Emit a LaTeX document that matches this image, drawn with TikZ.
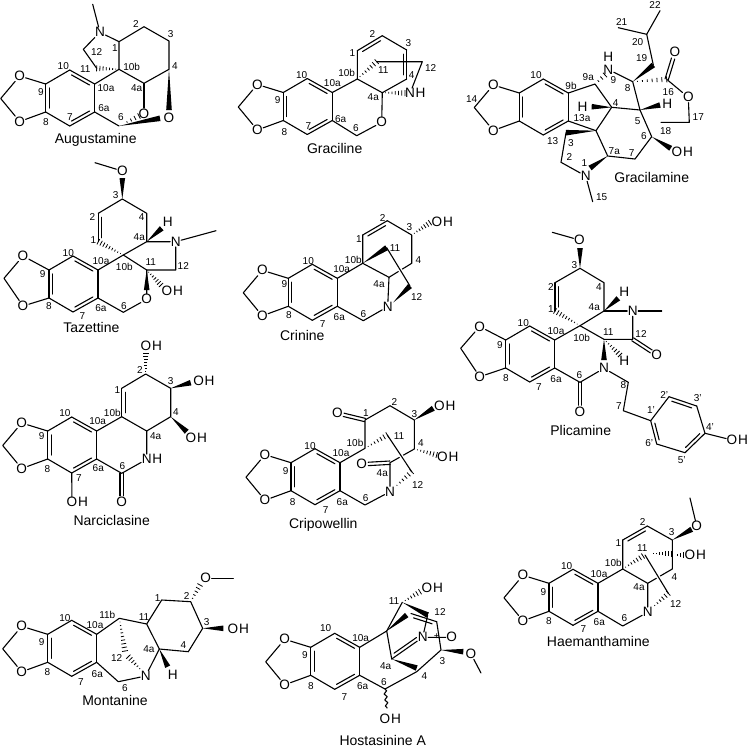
\documentclass[tikz,border=0pt]{standalone}
\usepackage{fontspec}
\setmainfont{Liberation Sans}
\usetikzlibrary{calc}
\usetikzlibrary{decorations.pathmorphing}

\tikzset{
  bond/.style={black, line width=1.1pt, line join=round, line cap=round},
  halo/.style={white, line width=4pt},
  atom/.style={inner sep=0.4pt, font=\fontsize{13.6}{13.6}\selectfont},
  num/.style={inner sep=0pt, font=\fontsize{10}{10}\selectfont},
  molname/.style={inner sep=0pt, font=\fontsize{14}{14}\selectfont}
}

\newcommand{\carbons}[2]{\foreach \n/\x/\y in {#2} \coordinate (#1\n) at (\x,\y);}
\newcommand{\nums}[2]{\foreach \lab/\x/\y in {#2} \node[num] (#1-\lab) at (\x,\y) {\lab};}
\newcommand{\bondwedge}[2]{\fill[black] (#1) -- ($(#2)!2.8pt!90:(#1)$) -- ($(#2)!2.8pt!-90:(#1)$) -- cycle;}
\newcommand{\bondhash}[3][7]{\foreach \i in {1,...,#1} {
    \pgfmathsetmacro{\fr}{\i/#1}
    \coordinate (h) at ($(#2)!\fr!(#3)$);
    \draw[black, line width=0.8pt] ($(h)!3pt*\fr!90:(#2)$) -- ($(h)!3pt*\fr!-90:(#2)$);
  }}
\newcommand{\bonddouble}[2]{
  \coordinate (h1) at ($(#1)!.14!(#2)$);
  \coordinate (h2) at ($(#1)!.86!(#2)$);
  \draw[bond] (#1) -- (#2);
  \draw[bond] ($(h1)!3.4pt!90:(#2)$) -- ($(h2)!3.4pt!-90:(#1)$);}
\newcommand{\bondtwin}[2]{
  \coordinate (h1) at ($(#2)!6.5pt!(#1)$);
  \draw[bond] ($(#1)!1.7pt!90:(#2)$) -- ($(h1)!1.7pt!-90:(#1)$);
  \draw[bond] ($(#1)!1.7pt!-90:(#2)$) -- ($(h1)!1.7pt!90:(#1)$);}
\newcommand{\bondover}[2]{
  \draw[halo] ($(#1)!.15!(#2)$) -- ($(#1)!.85!(#2)$);
  \draw[bond] (#1) -- (#2);}
\newcommand{\hydroxyl}[3]{
  \node[atom] (#1) at (#2,#3) {O};
  \node[atom, anchor=west, inner sep=0pt] (#1H) at (#1.east) {H};}
% the ring with the dioxole, from C9
\newcommand{\benzo}[6]{
  \begin{scope}[shift={(#2,#3)}]
    \carbons{#1}{9/0/0, 10/24/-14, 10a/49/0, 6a/49/28, 7/24/42, 8/0/28, CH/-45/#6}
    \node[atom] (#1O1) at (-26,#4) {O};
    \node[atom] (#1O2) at (-26,#5) {O};
  \end{scope}
  \bonddouble{#19}{#18}
  \bonddouble{#110a}{#110}
  \bonddouble{#17}{#16a}
  \draw[bond] (#19) -- (#110);
  \draw[bond] (#110a) -- (#16a);
  \draw[bond] (#17) -- (#18);
  \draw[bond] (#19) -- (#1O1) -- (#1CH) -- (#1O2) -- (#18);}

\begin{document}
\begin{tikzpicture}[x=1pt,y=-1pt]
  \useasboundingbox (0,0) rectangle (747,748);

  % Augustamine
  \benzo{au}{45.7}{84}{-8}{37.5}{14.5}
  \carbons{au}{1/119/41.7, 2/144/26.7, 3/169/41, 4/169/69.3, 4a/144/83.3, 10b/119/69.3, 12/83.3/49.3, 11/96.7/68.3, 6/119/126, me/92.7/4.3, w1/169/110, w2/160/118.3, w3/123/124, w4/139/116}
  \node[atom] (auN) at (100,32.3) {N};
  \node[atom] (auOa) at (144,113.5) {O};
  \node[atom] (auOb) at (169,118) {O};
  \draw[bond] (aume) -- (auN) -- (au1) -- (au2) -- (au3) -- (au4) -- (au4a) -- (au10b) -- (au1);
  \draw[bond] (au10b) -- (au10a);
  \draw[bond] (au6a) -- (au6);
  \draw[bond] (au4a) -- (auOa);
  \draw[bond] (auN) -- (au12) -- (au11);
  \bondhash{au10b}{au11}
  \bondwedge{au4}{auw1}
  \bondwedge{au6}{auw2}
  \bondhash[4]{auw3}{auw4}
  \nums{au}{1/115/48, 2/136/24, 3/170.7/34, 4/175/65.7, 4a/136.7/88.3, 10b/131.7/66.7, 12/96.7/51.7, 11/85.3/69, 10/63.3/66, 10a/106/88.3, 9/41/91.7, 8/46/121.7, 7/70/117.3, 6a/104/108.3, 6/121/117.3}
  \node[molname] (auname) at (95.7,140) {Augustamine};

  % Graciline
  \benzo{gr}{283.3}{92.5}{-8}{37.5}{14.5}
  \carbons{gr}{10b/357.3/79, 1/357.3/50.7, 2/382.3/35.7, 3/406.7/50, 4/406.7/79, 4a/382.3/92.7, 6/356.7/135.7, 11/376.7/61.7, 12/422.3/61.7, w1/405/93}
  \node[atom] (grO) at (381.7,122.3) {O};
  \node[atom] (grN) at (410,93.3) {N};
  \node[atom, anchor=west, inner sep=0pt] (grH) at (grN.east) {H};
  \draw[bond] (gr10a) -- (gr10b) -- (gr1);
  \bonddouble{gr2}{gr1}
  \draw[bond] (gr2) -- (gr3);
  \bonddouble{gr4}{gr3}
  \draw[bond] (gr4) -- (gr4a) -- (gr10b);
  \draw[bond] (gr4a) -- (grO) -- (gr6) -- (gr6a);
  \draw[bond] (gr11) -- (gr12) -- (grN);
  \bondhash{gr10b}{gr11}
  \bondhash{gr4a}{grw1}
  \nums{gr}{1/352.3/52.7, 2/372.3/34, 3/408.3/43.3, 4/411.7/75, 4a/373.3/97.3, 10b/346.7/73.3, 10a/332.3/83.3, 11/383.3/70, 12/430.7/67.7, 10/301.7/75, 9/277.7/100, 8/284.3/131.7, 7/308.3/126, 6a/340.7/119.3, 6/356/128.3}
  \node[molname] (grname) at (334.7,148.3) {Graciline};

  % Gracilamine
  \benzo{gl}{519.3}{93}{-8}{37.5}{14.5}
  \carbons{gl}{9a/595/84, 4/611.7/107.3, 8/632.7/81.7, 5/640/110, 6/651.7/136.7, 7/635/159, 7a/607.7/156, b/596/130.7, 2/561/162.3, 3/566/132.7, me/592.7/201.7, 19/653.3/65, 20/646.7/34.3, 21/618.3/27.7, 22/660/10.7, 16/666.7/79.3, 17/689.3/122.3, 18/661/122.3, w1/591.7/106.7, w2/660/105, w3/670.7/148.3, w4/590/168, w5/605/75}
  \node[atom] (glN) at (608.3,69.5) {N};
  \node[atom] (glNH) at (608.3,56.5) {H};
  \node[atom] (glH1) at (582.5,106.5) {H};
  \node[atom] (glH2) at (667.3,104.3) {H};
  \node[atom] (glNm) at (585.7,176) {N};
  \node[atom] (glOa) at (675,52.3) {O};
  \node[atom] (glOb) at (688.3,97.3) {O};
  \hydroxyl{glOH}{677}{151.7}
  \draw[bond] (gl10a) -- (gl9a) -- (gl4) -- (gl5) -- (gl8) -- (glN);
  \draw[bond] (gl4) -- (glb) -- (gl6a);
  \draw[bond] (glb) -- (gl7a) -- (gl7) -- (gl6) -- (gl5);
  \draw[bond] (gl3) -- (gl2) -- (glNm) -- (glme);
  \draw[bond] (gl19) -- (gl20) -- (gl21);
  \draw[bond] (gl20) -- (gl22);
  \draw[bond] (gl16) -- (glOb) -- (gl17) -- (gl18);
  \bondtwin{gl16}{glOa}
  \bondwedge{glb}{gl3}
  \bondwedge{gl7a}{glw4}
  \bondwedge{gl4}{glw1}
  \bondwedge{gl5}{glw2}
  \bondwedge{gl6}{glw3}
  \bondwedge{gl8}{gl19}
  \bondhash{gl8}{gl16}
  \bondhash[3]{gl9a}{glw5}
  \nums{gl}{22/655/5, 21/621.7/21.7, 20/637.7/41.7, 19/641.7/58.3, 16/668.3/91.7, 17/698.3/117.3, 18/665.7/131, 14/471.7/99.3, 10/536/75, 9b/571/86, 9a/588.3/76.7, 9/613.3/80, 8/627.7/87.7, 4/615.7/102.7, 5/637.7/121, 6/644/135.7, 13a/582/118, 13/552.7/140.7, 3/571/142.7, 2/569.3/157.3, 1/584.3/163.3, 7a/614.3/150.7, 7/631.7/152.7, 15/601.7/196.7}
  \node[molname] (glname) at (651.7,177.7) {Gracilamine};

  % Tazettine
  \benzo{ta}{49}{270}{-14}{36}{8.3}
  \carbons{ta}{3/122.3/199, 2/98.3/213.3, 1/98.3/241.7, 10b/123.3/255, 4a/146.7/241.7, 4/146.7/213.3, 6/123.3/312.3, 11/146.7/270, 12/175.7/270, me/216/230.7, m2/95/162.7, w1/122.3/178, w2/161.7/228.3, w3/146.7/290, w4/161/285}
  \node[atom] (taOm) at (122.3,171) {O};
  \node[atom] (taO) at (146.7,299.3) {O};
  \node[atom] (taN) at (175.7,241.7) {N};
  \node[atom] (taH) at (167.7,222.3) {H};
  \hydroxyl{taOH}{167}{290.7}
  \draw[bond] (tam2) -- (taOm);
  \bonddouble{ta2}{ta1}
  \draw[bond] (ta2) -- (ta3) -- (ta4) -- (ta4a) -- (ta10b) -- (ta10a);
  \draw[bond] (ta10b) -- (ta11) -- (ta12) -- (taN) -- (ta4a);
  \draw[bond] (taN) -- (tame);
  \draw[bond] (ta6a) -- (ta6) -- (taO) -- (ta11);
  \bondwedge{ta3}{taw1}
  \bondwedge{ta4a}{taw2}
  \bondwedge{ta11}{taw3}
  \bondhash{ta11}{taw4}
  \bondhash[9]{ta10b}{ta1}
  \nums{ta}{3/115.7/195, 2/92.3/216.7, 1/93.3/240, 4/141.7/216.7, 4a/139.3/237.3, 10/68.3/252.7, 10a/101/261, 10b/124.3/267.3, 11/150.7/261.7, 12/183.3/265.7, 9/42.7/274.3, 8/49/305.7, 7/82.3/316, 6a/101/308.3, 6/124/306}
  \node[molname] (taname) at (91.3,327.3) {Tazettine};

  % Crinine
  \benzo{cr}{288.3}{278.3}{-8}{37.5}{14.5}
  \carbons{cr}{10b/362.7/263.3, 1/362.7/235, 2/387.3/220.7, 3/411.7/235, 4/411.7/263.3, 4a/389/277.3, 6/363.3/320.7, 11/386.7/247.7, 12/410/286, w1/430/222.7}
  \node[atom] (crN) at (387.7,306.7) {N};
  \hydroxyl{crOH}{437}{221.7}
  \draw[bond] (cr10a) -- (cr10b) -- (cr1);
  \bonddouble{cr2}{cr1}
  \draw[bond] (cr2) -- (cr3) -- (cr4) -- (cr4a) -- (cr10b);
  \draw[bond] (cr4a) -- (crN) -- (cr6) -- (cr6a);
  \bondover{cr11}{cr12}
  \bondwedge{cr10b}{cr11}
  \bondwedge{crN}{cr12}
  \bondhash{cr3}{crw1}
  \nums{cr}{2/382.7/217.7, 1/359/239, 3/409.3/227.3, 4/418.3/260, 11/395/248.3, 12/416.7/296.7, 10b/353.3/260, 10a/341.7/269.3, 10/308.3/261, 9/284.3/284.3, 8/289/315, 7/322.7/324, 6a/339.3/316.7, 6/363.3/314, 4a/379/284}
  \node[molname] (crname) at (302.3,335) {Crinine};

  % Plicamine
  \benzo{pl}{505.7}{340}{-13.5}{36.7}{8.3}
  \carbons{pl}{10b/580/325.7, 1/555/311, 2/555/282.7, 3/580/268.3, 4/604/282.7, 4a/604/311, me/661.7/311, m2/552.3/232.3, 11/604/339.3, 12/632.7/339.3, 6/580/382.3, 8b/628.3/382.3, 7b/623.3/410.7, p1/650.7/420.7, p2/669/396.7, p3/696.7/406, p4/705/433.3, p5/685/452.7, p6/656.7/444, w1/580/248, w2/618.3/298.3, w3/604/360, w4/620/355}
  \node[atom] (plOm) at (579.3,240) {O};
  \node[atom] (plN) at (632.7,311) {N};
  \node[atom] (plH) at (624.3,291.7) {H};
  \node[atom] (plHb) at (624.3,361) {H};
  \node[atom] (plNb) at (604,368.3) {N};
  \node[atom] (plOa) at (656.7,355) {O};
  \node[atom] (plOb) at (580,411.7) {O};
  \hydroxyl{plOH}{732}{440}
  \draw[bond] (plm2) -- (plOm);
  \bonddouble{pl2}{pl1}
  \draw[bond] (pl2) -- (pl3) -- (pl4) -- (pl4a) -- (pl10b) -- (pl10a);
  \draw[bond] (pl4a) -- (plN) -- (plme);
  \draw[bond] (plN) -- (pl12) -- (pl11) -- (pl10b);
  \draw[bond] (pl6a) -- (pl6) -- (plNb) -- (pl8b) -- (pl7b) -- (plp1);
  \bondtwin{pl12}{plOa}
  \bondtwin{pl6}{plOb}
  \bonddouble{plp3}{plp2}
  \bonddouble{plp5}{plp4}
  \bonddouble{plp1}{plp6}
  \draw[bond] (plp1) -- (plp2);
  \draw[bond] (plp3) -- (plp4);
  \draw[bond] (plp5) -- (plp6);
  \draw[bond] (plp4) -- (plOH);
  \bondwedge{pl3}{plw1}
  \bondwedge{pl4a}{plw2}
  \bondwedge{pl11}{plw3}
  \bondhash{pl11}{plw4}
  \bondhash[9]{pl10b}{pl1}
  \nums{pl}{3/574.3/265, 2/551/286.7, 1/551/309.3, 4/599/286.7, 4a/594.3/306.7, 10/523.3/322.7, 10a/556/330.7, 10b/581.7/337.7, 11/608.3/331.7, 12/641/334, 9/500/345, 8/506/377.7, 7/539/387.3, 6a/556/379, 6/579.3/375, 8/623.3/385, 7/619/405.7, 1'/651/410, 2'/664.3/395, 3'/697.7/398.3, 4'/710/426.7, 5'/681.7/460, 6'/649.3/442.7}
  \node[molname] (plname) at (580.7,430) {Plicamine};

  % Narciclasine
  \benzo{na}{47.7}{431}{-8}{37.5}{14.5}
  \carbons{na}{10b/121.7/416.7, 1/121.7/388.3, 2/145.7/374, 3/170.7/388.3, 4/170.7/416.7, 4a/146.7/431, 6/121.7/473.3, w1/190.7/382.7, w2/186.7/431.7, w3/145.7/353.3}
  \node[atom] (naN) at (146.7,459.3) {N};
  \node[atom, anchor=west, inner sep=0pt] (naH) at (naN.east) {H};
  \node[atom] (naO) at (121.7,502.3) {O};
  \hydroxyl{naOa}{146}{345.7}
  \hydroxyl{naOb}{198.6}{381}
  \hydroxyl{naOc}{191}{437.7}
  \hydroxyl{naOd}{72}{502.3}
  \draw[bond] (na10a) -- (na10b);
  \bonddouble{na1}{na10b}
  \draw[bond] (na1) -- (na2) -- (na3) -- (na4) -- (na4a) -- (na10b);
  \draw[bond] (na4a) -- (naN) -- (na6) -- (na6a);
  \draw[bond] (na7) -- (naOd);
  \bondtwin{na6}{naO}
  \bondwedge{na3}{naw1}
  \bondwedge{na4}{naw2}
  \bondhash{na2}{naw3}
  \nums{na}{2/140/370, 3/170.7/380.7, 1/117.3/390, 4/176/411.7, 4a/155.7/435.7, 10/65/413.3, 10a/97.7/421, 10b/112.3/412.7, 9/41.7/436, 8/47.3/469, 7/79/478.3, 6a/98.3/468.3, 6/122.3/465.7}
  \node[molname] (naname) at (111.7,520) {Narciclasine};

  % Cripowellin
  \benzo{cp}{291}{462.7}{-8}{37.5}{14.5}
  \carbons{cp}{10b/365/448.3, 1/365/420, 2/390/405.7, 3/414.3/420, 4/414.3/449, 4a/390/462.7, 6/365/505, 11/387.3/435, 12/411.7/471.7, w1/433.3/408.3, w2/436.7/455, w3/394/488}
  \node[atom] (cpOa) at (337.3,413.3) {O};
  \node[atom] (cpOb) at (361.7,464.3) {O};
  \node[atom] (cpN) at (390,491.7) {N};
  \hydroxyl{cpOHa}{439.5}{406}
  \hydroxyl{cpOHb}{442.5}{457.3}
  \draw[bond] (cp10a) -- (cp10b) -- (cp1) -- (cp2) -- (cp3) -- (cp4) -- (cp4a) -- (cpN) -- (cp6) -- (cp6a);
  \bondtwin{cp1}{cpOa}
  \bondtwin{cp4a}{cpOb}
  \bondover{cp11}{cp12}
  \bondwedge{cp3}{cpw1}
  \bondhash{cp4}{cpw2}
  \bondhash{cp10b}{cp11}
  \bondhash[6]{cpw3}{cp12}
  \nums{cp}{1/366/412.7, 2/394.3/402.3, 3/414.3/414.3, 4/421/443.3, 11/399/435.7, 12/417.7/485, 4a/382.3/472.7, 10b/355/443.3, 10a/341/453.3, 10/310/446, 9/285.7/471, 8/292.7/501.7, 7/325.7/510, 6a/342.3/502.3, 6/365.7/498.3}
  \node[molname] (cpname) at (323.3,525) {Cripowellin};

  % Montanine
  \benzo{mo}{47.7}{634.3}{-8}{37.5}{14.5}
  \carbons{mo}{b/119.3/618.3, 11/146.7/624, 1/161.7/600, 2/190.7/601.7, 3/202.7/628.3, 4/188.3/651.7, 4a/159.3/649, 6/118.3/681.7, me/233.3/578.3, w1/125/651, w2/128.3/656.7, w3/142/671, w4/167.7/666.7, w5/200/585, w6/223.3/628.3}
  \node[atom] (moN) at (145.7,676) {N};
  \node[atom] (moH) at (172.7,675) {H};
  \node[atom] (moO) at (205.7,578.3) {O};
  \hydroxyl{moOH}{233}{629}
  \draw[bond] (mo10a) -- (mob) -- (mo11) -- (mo1) -- (mo2) -- (mo3) -- (mo4) -- (mo4a) -- (mo11);
  \draw[bond] (mo4a) -- (moN) -- (mo6) -- (mo6a);
  \draw[bond] (moO) -- (mome);
  \bondwedge{mo4a}{mow4}
  \bondwedge{mo3}{mow6}
  \bondhash[9]{mob}{mow1}
  \bondhash[6]{mow3}{mow2}
  \bondhash[5]{mo2}{mow5}
  \nums{mo}{1/157.7/598.3, 2/186.7/596, 3/206.7/621.7, 4/183.3/645, 4a/149/649, 11/144/616.7, 11b/107.3/615, 10a/95/625, 10/65/618.3, 9/41.7/642.3, 8/47.3/672.3, 7/81/681.7, 6a/97.3/674.3, 6/125/687.7, 12/116.7/658.3}
  \node[molname] (moname) at (115,700.7) {Montanine};

  % Hostasinine A
  \benzo{ho}{310.7}{647.3}{-8}{37.5}{14.5}
  \carbons{ho}{10b/386.7/631, 6/385/689, 4/416.7/671.7, 3/441/650, 4a/391.7/659, 2/436.7/621.7, 1/411/613.5, 11/402.3/602.3, 12/427.7/615, w1/420/591.7, w2/406.7/615, w3/416.7/668, w4/463.3/651.7, me/481/673, w5/387/708}
  \node[atom] (hoN) at (422.7,637.3) {N};
  \node[atom] (hoO) at (451.7,637.3) {O};
  \node[atom] (hoOm) at (471,654) {O};
  \hydroxyl{hoOHa}{427}{588.3}
  \hydroxyl{hoOHb}{385}{719}
  \draw[bond] (ho10a) -- (ho10b) -- (ho11);
  \draw[bond] (ho10b) -- (ho4a);
  \draw[bond] (ho6a) -- (ho6) -- (ho4) -- (ho3) -- (ho2);
  \bonddouble{ho2}{ho1}
  \bonddouble{ho4a}{hoN}
  \draw[bond] (ho12) -- (hoN) -- (hoO);
  \draw[bond] (hoOm) -- (home);
  \draw[bond, decorate, decoration={snake, amplitude=1.4pt, segment length=6pt}] (ho6) -- (how5);
  \bondwedge{ho10b}{how2}
  \bondwedge{ho11}{ho12}
  \bondwedge{ho4a}{how3}
  \bondwedge{ho3}{how4}
  \bondhash[6]{ho11}{how1}
  \node[num] (hoplus) at (436.7,636.5) {+};
  \nums{ho}{10/325.7/627.7, 10a/360.7/638.3, 9/305/655, 8/311/686, 7/344.3/696.7, 6a/362.7/686, 6/384/681.7, 4a/385.7/665.7, 4/424.3/675.7, 3/442.3/660.7, 11/394/601, 12/440/611.7}
  \node[molname] (honame) at (382.7,740.5) {Hostasinine A};

  % Haemanthamine
  \benzo{ha}{549}{583.3}{-8}{37.5}{14.5}
  \carbons{ha}{10b/622.7/569, 1/622.7/540, 2/647.3/526, 3/672.3/540, 4/672.3/569, 4a/647.7/583.3, 6/622.7/626, 11/645/555, 12/668.3/593.3, me/690/498, w1/691.7/529.3, w2/643/556, w3/650/553.5, w4/671/553.5, w5/675/555, w6/683/555, w7/652/608}
  \node[atom] (haN) at (647.7,612.3) {N};
  \node[atom] (haO) at (696.7,526) {O};
  \hydroxyl{haOH}{690}{555}
  \draw[bond] (ha10a) -- (ha10b) -- (ha1);
  \bonddouble{ha2}{ha1}
  \draw[bond] (ha2) -- (ha3) -- (ha4) -- (ha4a) -- (ha10b);
  \draw[bond] (ha4a) -- (haN) -- (ha6) -- (ha6a);
  \draw[bond] (haO) -- (hame);
  \bondover{ha11}{ha12}
  \bondwedge{ha3}{haw1}
  \bondhash{ha10b}{haw2}
  \bondhash{haw3}{haw4}
  \bondhash[3]{haw5}{haw6}
  \bondhash[6]{haw7}{ha12}
  \nums{ha}{1/618.3/543.3, 2/642.7/521.7, 3/671.7/532.3, 4/674.3/576.7, 11/642.3/548.3, 12/675.7/604.3, 4a/639/586.7, 10b/613.3/563.3, 10a/599/574, 10/566.7/565.7, 9/543.3/591.7, 8/549/620.7, 7/583.3/629.3, 6a/599.3/621.7, 6/624.3/618.3}
  \node[molname] (haname) at (598.3,641.7) {Haemanthamine};
\end{tikzpicture}
\end{document}
